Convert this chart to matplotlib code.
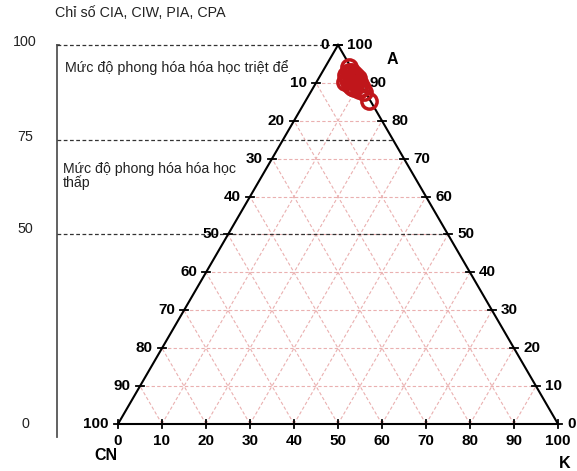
import numpy as np
import matplotlib
matplotlib.use("Agg")
import matplotlib.pyplot as plt

plt.rcParams['font.family'] = ['Liberation Sans', 'DejaVu Sans']

# Data: percentages of A, K, CN for each sample
A_vals = [94.2, 92.9, 92.1, 92.1, 90.8, 90.8, 89.4, 89.7, 88.7, 88.7, 91.3, 90.2, 87.6, 85.2,
          93.0, 91.5, 90.0, 89.0, 91.0, 92.5, 88.2]
K_vals = [5.4, 6.8, 5.8, 7.9, 6.9, 8.9, 8.0, 10.1, 9.3, 11.1, 8.9, 6.5, 12.1, 14.4,
          5.9, 7.2, 9.0, 8.6, 7.8, 6.3, 10.6]
ticks = [0, 10, 20, 30, 40, 50, 60, 70, 80, 90, 100]
index_levels = [100, 75, 50, 0]
index_title = "Chỉ số CIA, CIW, PIA, CPA"
zone_high = "Mức độ phong hóa hóa học triệt để"
zone_low = "Mức độ phong hóa hóa học\nthấp"

W, H = 577, 471
fig = plt.figure(figsize=(W / 100, H / 100), dpi=100)
ax = fig.add_axes([0, 0, 1, 1])
# pixel mapping: x_pix = 118 + 4.4*xd ; y_pix = 424 - 3.79*A
sx, sy = 4.4, 3.79
ax.set_xlim(-118 / sx, (W - 118) / sx)
ax.set_ylim((424 - H) / sy, 424 / sy)
ax.axis('off')


def tern(a, k):
    a = np.asarray(a, float)
    k = np.asarray(k, float)
    return k + a / 2.0, a


px = 1 / sx  # one pixel in x data
py = 1 / sy

grid_c = '#eab0b0'
for v in ticks[1:-1]:
    x0, y0 = tern(v, 0)
    x1, y1 = tern(v, 100 - v)
    ax.plot([x0, x1], [y0, y1], ls=(0, (3, 2)), color=grid_c, lw=0.8, zorder=1)
    x0, y0 = tern(0, v)
    x1, y1 = tern(100 - v, v)
    ax.plot([x0, x1], [y0, y1], ls=(0, (3, 2)), color=grid_c, lw=0.8, zorder=1)
    x0, y0 = tern(0, 100 - v)
    x1, y1 = tern(100 - v, 0)
    ax.plot([x0, x1], [y0, y1], ls=(0, (3, 2)), color=grid_c, lw=0.8, zorder=1)

# left index axis
xl = (57 - 118) / sx
ax.plot([xl, xl], [100, (424 - 437) / sy], color='#555555', lw=1.3, zorder=2)
ax.plot([xl, xl + 2 * px], [100, 100], color='#555555', lw=1.3, zorder=2)
for lev in index_levels[:-1]:
    xr, _ = tern(lev, 100 - lev)
    ax.plot([xl, xr], [lev, lev], ls=(0, (3, 2)), color='#333333', lw=0.9, zorder=2)
label_y = {100: 42, 75: 137, 50: 229, 0: 424}
for lev in index_levels:
    ax.text((25 - 118) / sx, (424 - label_y[lev]) / sy, str(lev), ha='center', va='center',
            fontsize=10.3, color='#222222')

ax.text((55 - 118) / sx, (424 - 13) / sy, index_title, ha='left', va='center', fontsize=10.3,
        color='#222222')
ax.text((65 - 118) / sx, (424 - 68) / sy, zone_high, ha='left', va='center', fontsize=10.3,
        color='#222222')
ax.text((63 - 118) / sx, (424 - 176) / sy, zone_low, ha='left', va='center', fontsize=10.2,
        color='#222222', linespacing=1.0)

# triangle
tx, ty = tern([0, 0, 100, 0], [0, 100, 0, 0])
ax.plot(tx, ty, color='black', lw=1.5, zorder=3, solid_joinstyle='miter')

tl = 4
fs = 11
for v in ticks:
    a = 100 - v
    x, y = tern(a, 0)
    ax.plot([x - tl * px, x + tl * px], [y, y], color='black', lw=1.3, zorder=3)
    ax.text(x - 9 * px, y, str(v), ha='right', va='center', fontsize=fs, fontweight='bold')
    x, y = tern(v, 100 - v)
    ax.plot([x - tl * px, x + tl * px], [y, y], color='black', lw=1.3, zorder=3)
    ax.text(x + 9 * px, y, str(v), ha='left', va='center', fontsize=fs, fontweight='bold')
    x, y = tern(0, v)
    ax.plot([x, x], [y - tl * py, y + tl * py], color='black', lw=1.3, zorder=3)
    ax.text(x, y - 17 * py, str(v), ha='center', va='center', fontsize=fs, fontweight='bold')

ax.text((392 - 118) / sx, (424 - 60) / sy, 'A', ha='center', va='center', fontsize=11.5,
        fontweight='bold')
ax.text((106 - 118) / sx, (424 - 455) / sy, 'CN', ha='center', va='center', fontsize=11.5,
        fontweight='bold')
ax.text((565 - 118) / sx, (424 - 463) / sy, 'K', ha='center', va='center', fontsize=11.5,
        fontweight='bold')

dx, dy = tern(A_vals, K_vals)
ax.plot(dx, dy, 'o', ms=11, mfc='none', mec='#c0161b', mew=2.5, zorder=5)

fig.savefig('out.png', dpi=100, facecolor='white')
